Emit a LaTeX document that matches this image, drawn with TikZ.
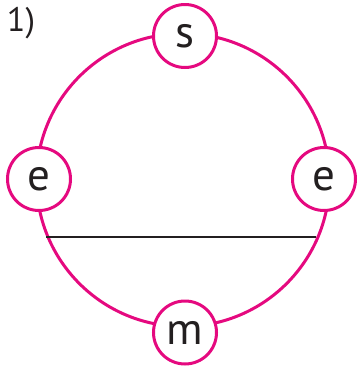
\documentclass[tikz,border=0pt]{standalone}
\usepackage{fontspec}
\setmainfont{PT Sans}
\definecolor{pinkc}{HTML}{E5097F}
\definecolor{inkc}{HTML}{231F20}
\begin{document}
\begin{tikzpicture}[x=1pt,y=-1pt,
  ring/.style={circle, draw=pinkc, line width=3pt, inner sep=0pt, minimum size=293pt},
  vtx/.style={circle, draw=pinkc, fill=white, line width=3pt, inner sep=0pt, minimum size=63pt,
    text=inkc, font=\fontsize{45}{45}\selectfont},
  lbl/.style={text=inkc, inner sep=0pt, font=\fontsize{34}{34}\selectfont},
  chord/.style={draw=inkc, line width=2.6pt}]
\useasboundingbox (0,0) rectangle (358,368);
\node[ring] (big) at (183,180) {};
\node[vtx] (s) at (185,36) {s};
\node[vtx] (el) at (39,179) {e};
\node[vtx] (er) at (324,179) {e};
\node[vtx] (m) at (185,332.5) {m};
\node[lbl] (num) at (21,23) {1)};
\coordinate (ca) at (46.5,237);
\coordinate (cb) at (316.5,237);
\draw[chord] (ca) -- (cb);
\end{tikzpicture}
\end{document}
